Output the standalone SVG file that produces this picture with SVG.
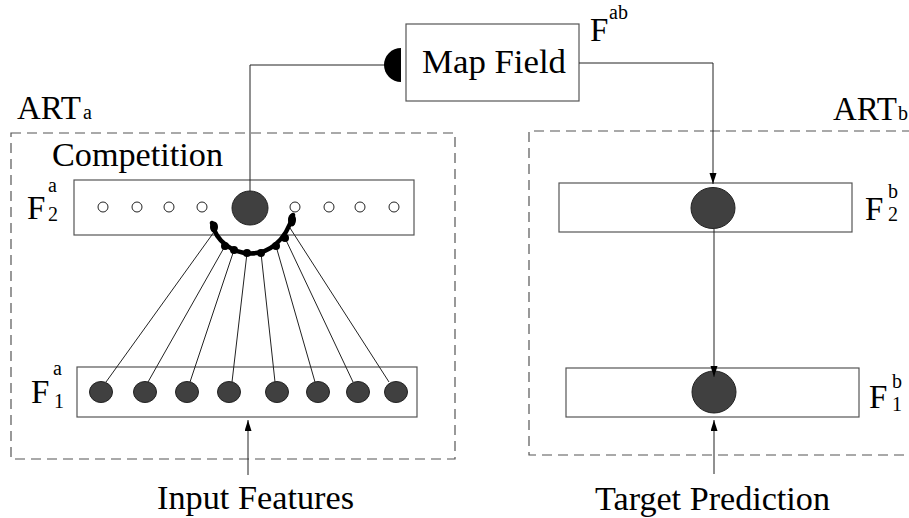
<svg xmlns="http://www.w3.org/2000/svg" width="909" height="518" viewBox="0 0 909 518">
  <style>
    .serif { font-family: 'Liberation Serif', 'Times New Roman', 'DejaVu Serif', serif; fill: #000; }
    .lbl { font-size: 33px; }
    .big { font-size: 33px; }
    .idx { font-size: 20px; }
    .field { fill: #fff; stroke: #555; stroke-width: 1.2; }
    .module { fill: none; stroke: #555; stroke-width: 1.2; stroke-dasharray: 10 6; }
    .cell { fill: #404040; stroke: #222; stroke-width: 1; }
    .idle { fill: #fff; stroke: #222; stroke-width: 1; }
    .wire { fill: none; stroke: #222; stroke-width: 1; }
    .inhib { fill: none; stroke: #000; stroke-width: 4.5; stroke-linecap: round; }
    .knob { fill: #000; }
  </style>
  <defs>
    <marker id="arrow" markerUnits="userSpaceOnUse" markerWidth="11" markerHeight="8" refX="11" refY="3.5" orient="auto">
      <path d="M0,0 L11,3.5 L0,7 z" fill="#000"/>
    </marker>
  </defs>

  <rect width="909" height="518" fill="#fff"/>

  <!-- ART a module -->
  <g id="art-a" class="serif">
    <rect class="module" x="11" y="133" width="444" height="326"/>
    <text class="big" x="17" y="119">ART</text>
    <text class="idx" x="83" y="119">a</text>
    <text class="lbl" x="52" y="166" textLength="171" lengthAdjust="spacingAndGlyphs">Competition</text>
  </g>

  <!-- ART b module (open to the right) -->
  <g id="art-b" class="serif">
    <path class="module" d="M912,131 H529 V455 H912"/>
    <text class="big" x="833" y="120">ART</text>
    <text class="idx" x="898" y="120" font-size="18">b</text>
  </g>

  <!-- Map field -->
  <g id="map-field" class="serif">
    <rect class="field" x="406" y="24" width="173" height="77"/>
    <text class="lbl" x="422" y="73" textLength="144" lengthAdjust="spacingAndGlyphs">Map Field</text>
    <text class="big" x="590" y="41">F</text>
    <text class="idx" x="609" y="19">ab</text>
  </g>

  <!-- F2 a layer -->
  <g id="f2a" class="serif">
    <rect class="field" x="74" y="180" width="340" height="55"/>
    <circle class="idle" cx="103" cy="207" r="5"/>
    <circle class="idle" cx="137" cy="207" r="5"/>
    <circle class="idle" cx="169" cy="207" r="5"/>
    <circle class="idle" cx="202" cy="207" r="5"/>
    <ellipse class="cell" cx="250" cy="208" rx="18" ry="17"/>
    <circle class="idle" cx="295" cy="207" r="5"/>
    <circle class="idle" cx="329" cy="207" r="5"/>
    <circle class="idle" cx="360" cy="207" r="5"/>
    <circle class="idle" cx="394" cy="207" r="5"/>
    <text class="big" x="27" y="219">F</text>
    <text class="idx" x="48" y="192">a</text>
    <text class="idx" x="48" y="221">2</text>
  </g>

  <!-- F1 a layer -->
  <g id="f1a" class="serif">
    <rect class="field" x="77" y="367" width="340" height="50"/>
    <ellipse class="cell" cx="101" cy="392" rx="11.5" ry="10.5"/>
    <ellipse class="cell" cx="145" cy="392" rx="11.5" ry="10.5"/>
    <ellipse class="cell" cx="187" cy="392" rx="11.5" ry="10.5"/>
    <ellipse class="cell" cx="229" cy="392" rx="11.5" ry="10.5"/>
    <ellipse class="cell" cx="277" cy="392" rx="11.5" ry="10.5"/>
    <ellipse class="cell" cx="318" cy="392" rx="11.5" ry="10.5"/>
    <ellipse class="cell" cx="358" cy="392" rx="11.5" ry="10.5"/>
    <ellipse class="cell" cx="396" cy="392" rx="11.5" ry="10.5"/>
    <text class="big" x="31" y="403">F</text>
    <text class="idx" x="53" y="375">a</text>
    <text class="idx" x="54" y="408">1</text>
  </g>

  <!-- F2 b layer -->
  <g id="f2b" class="serif">
    <rect class="field" x="559" y="183" width="293" height="49"/>
    <ellipse class="cell" cx="713" cy="208" rx="22" ry="20.5"/>
    <text class="big" x="865" y="220">F</text>
    <text class="idx" x="888" y="198">b</text>
    <text class="idx" x="888" y="221">2</text>
  </g>

  <!-- F1 b layer -->
  <g id="f1b" class="serif">
    <rect class="field" x="566" y="368" width="293" height="49"/>
    <ellipse class="cell" cx="714" cy="392" rx="22" ry="21"/>
    <text class="big" x="869" y="408">F</text>
    <text class="idx" x="892" y="388">b</text>
    <text class="idx" x="892" y="411">1</text>
  </g>

  <!-- Inputs and outputs -->
  <g id="input-features" class="serif">
    <text class="lbl" x="157" y="509" textLength="197" lengthAdjust="spacingAndGlyphs">Input Features</text>
  </g>
  <g id="target-prediction" class="serif">
    <text class="lbl" x="595" y="510" textLength="235" lengthAdjust="spacingAndGlyphs">Target Prediction</text>
  </g>

  <!-- Connectors -->
  <g id="connectors">
    <!-- bottom-up weights F1a -> competition arc -->
    <path class="wire" d="M106,382 L214,232"/>
    <path class="wire" d="M148,382 L225,246"/>
    <path class="wire" d="M190,382 L234,250"/>
    <path class="wire" d="M232,382 L247,253"/>
    <path class="wire" d="M275,382 L261,253"/>
    <path class="wire" d="M315,382 L276,246"/>
    <path class="wire" d="M353,382 L285,238"/>
    <path class="wire" d="M389,382 L290,228"/>

    <!-- competitive (inhibitory) arc under F2a -->
    <path class="inhib" d="M212,223 C220,260 278,270 293,215"/>
    <ellipse class="knob" cx="214" cy="227" rx="4" ry="5.5"/>
    <circle class="knob" cx="225" cy="246" r="4"/>
    <circle class="knob" cx="234" cy="250" r="4"/>
    <circle class="knob" cx="247" cy="253" r="4"/>
    <circle class="knob" cx="261" cy="253" r="4"/>
    <circle class="knob" cx="276" cy="246" r="4"/>
    <circle class="knob" cx="285" cy="238" r="4"/>
    <ellipse class="knob" cx="292" cy="220" rx="4" ry="6.5"/>

    <!-- winning F2a node to map field, ending in a half-disc -->
    <path class="wire" d="M250,191 V65 H386"/>
    <path class="knob" d="M401,48 A17,17 0 0 0 401,82 Z"/>

    <!-- map field to F2b -->
    <path class="wire" d="M579,63 H713 V184" marker-end="url(#arrow)"/>
    <!-- F2b to F1b -->
    <path class="wire" d="M714,229 V377" marker-end="url(#arrow)"/>
    <!-- external inputs -->
    <path class="wire" d="M248,475 V420" marker-end="url(#arrow)"/>
    <path class="wire" d="M714,474 V420" marker-end="url(#arrow)"/>
  </g>
</svg>
